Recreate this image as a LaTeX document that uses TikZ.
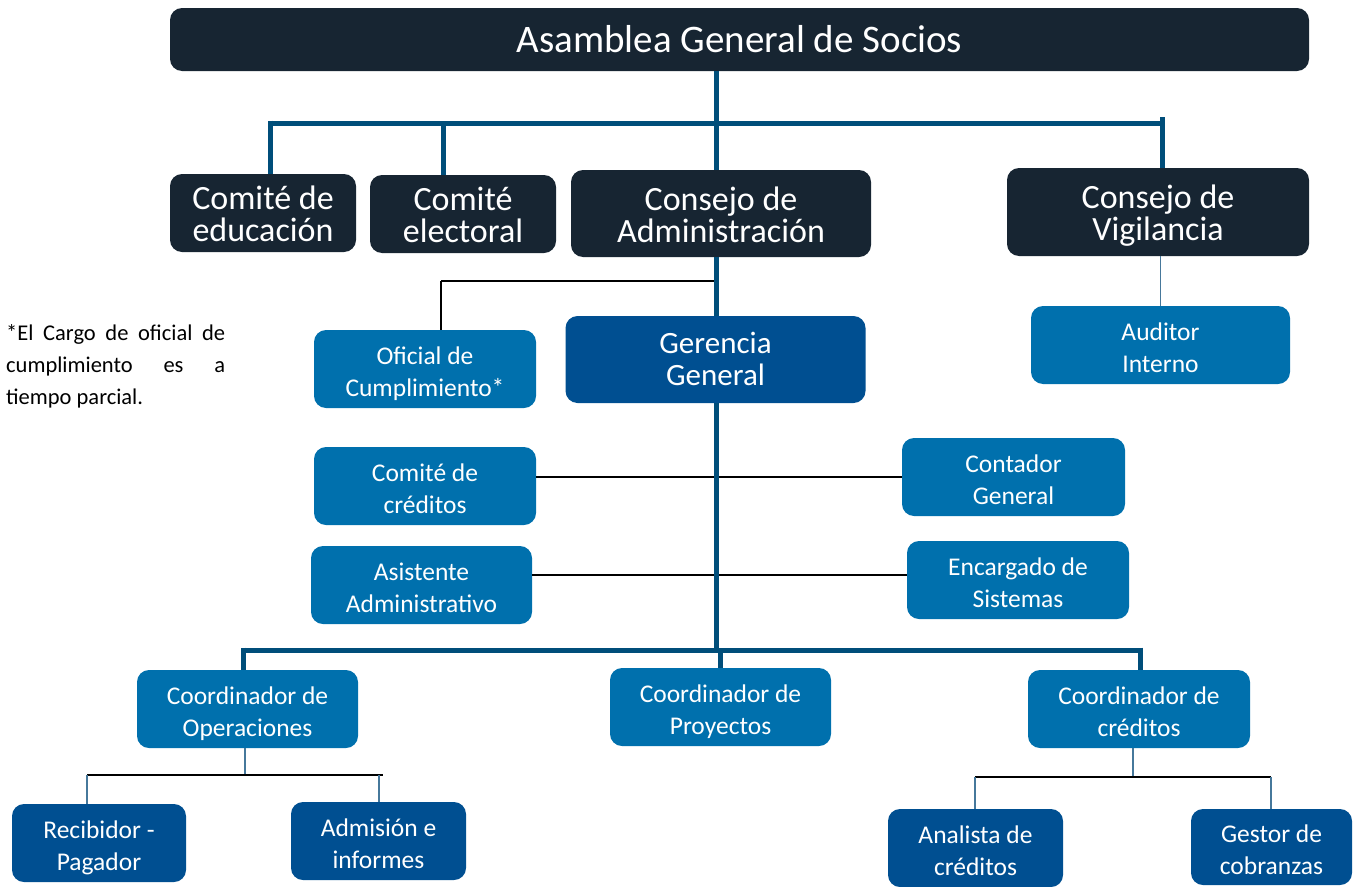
\documentclass[tikz,border=0pt]{standalone}
\usepackage{fontspec}
\setmainfont{Carlito}
\definecolor{navy}{RGB}{23,37,50}
\definecolor{midblue}{RGB}{0,112,173}
\definecolor{deepblue}{RGB}{0,79,145}
\definecolor{trunk}{RGB}{0,78,122}
\definecolor{thinblue}{RGB}{70,120,155}
\begin{document}
\begin{tikzpicture}[x=1pt,y=-1pt,
  box/.style={rounded corners=12pt,inner sep=0pt,align=center,text=white},
  topbox/.style={box,fill=navy,font=\fontsize{34}{32}\selectfont,text height=58pt,text depth=1pt},
  midbox/.style={box,fill=midblue,font=\fontsize{25.5}{32}\selectfont,text height=56pt,text depth=2pt},
  deepbox/.style={box,fill=deepblue,font=\fontsize{25.5}{32}\selectfont,text height=56pt,text depth=2pt},
  thick/.style={draw=trunk,line width=5pt},
  thinblk/.style={draw=black,line width=1.2pt},
  thinblu/.style={draw=thinblue,line width=1.4pt}]
\useasboundingbox (0,0) rectangle (1357,886);
% nodes
\node[box,fill=navy,minimum width=1139pt,minimum height=63pt,font=\fontsize{39}{39}\selectfont] (asam) at (739.5,39.5) {Asamblea General de Socios};
\node[topbox,minimum width=186pt,minimum height=78pt] (edu) at (263,213) {Comité de\\educación};
\node[topbox,minimum width=186pt,minimum height=78pt] (elec) at (463,214) {Comité\\electoral};
\node[topbox,minimum width=300pt,minimum height=87pt] (cadm) at (721,213.5) {Consejo de\\Administración};
\node[topbox,minimum width=302pt,minimum height=88pt] (cvig) at (1158,212) {Consejo de\\Vigilancia};
\node[midbox,minimum width=222pt,minimum height=78pt] (ofi) at (425,369) {Oficial de\\Cumplimiento*};
\node[deepbox,minimum width=300pt,minimum height=87pt,font=\fontsize{31}{32}\selectfont,text height=52pt,text depth=0pt] (ger) at (715.5,359.5) {Gerencia\\General};
\node[midbox,minimum width=259pt,minimum height=78pt] (aud) at (1160.5,345) {Auditor\\Interno};
\node[midbox,minimum width=222pt,minimum height=78pt] (ccred) at (425,486) {Comité de\\créditos};
\node[midbox,minimum width=223pt,minimum height=78pt] (cont) at (1013.5,477) {Contador\\General};
\node[midbox,minimum width=221pt,minimum height=78pt] (asis) at (421.5,585) {Asistente\\Administrativo};
\node[midbox,minimum width=222pt,minimum height=78pt] (enc) at (1018,580) {Encargado de\\Sistemas};
\node[midbox,minimum width=221pt,minimum height=78pt] (cop) at (247.5,709) {Coordinador de\\Operaciones};
\node[midbox,minimum width=221pt,minimum height=78pt] (cpro) at (720.5,707) {Coordinador de\\Proyectos};
\node[midbox,minimum width=222pt,minimum height=78pt] (ccr) at (1139,709) {Coordinador de\\créditos};
\node[deepbox,minimum width=174pt,minimum height=78pt] (rec) at (99,843) {Recibidor -\\Pagador};
\node[deepbox,minimum width=175pt,minimum height=78pt] (adm) at (378.5,841) {Admisión e\\informes};
\node[deepbox,minimum width=175pt,minimum height=78pt] (ana) at (975.5,848) {Analista de\\créditos};
\node[deepbox,minimum width=161pt,minimum height=76pt] (ges) at (1271.5,847) {Gestor de\\cobranzas};
\node[anchor=north west,inner sep=0pt,align=left,font=\fontsize{22.5}{32}\selectfont] (note) at (6,324)
  {\makebox[219pt][s]{*El Cargo de oficial de}\\\makebox[219pt][s]{cumplimiento es a}\\tiempo parcial.};
% coordinates
\coordinate (b1) at (270,123);
\coordinate (b2) at (443,123);
\coordinate (b3) at (1162,117);
\coordinate (b3b) at (1162,123);
\coordinate (lo) at (243,650);
\coordinate (lm) at (720,650);
\coordinate (lr) at (1140,650);
\coordinate (o1) at (441,281);
\coordinate (o2) at (716,281);
\coordinate (y575) at (0,575);
\coordinate (p0) at (245,775);
\coordinate (p1) at (87,775);
\coordinate (p2) at (383,775);
\coordinate (p3) at (379,775);
\coordinate (q0) at (1133,777);
\coordinate (q1) at (975,777);
\coordinate (q2) at (1271,777);
% thin connectors (behind trunk)
\draw[thinblk] (o1) -- (o2);
\draw[thinblk] (o1) -- (o1 |- ofi.north);
\draw[thinblk] (ccred.east |- cont.west) -- (cont.west);
\draw[thinblk] (asis.east |- y575) -- (enc.west |- y575);
\draw[thinblu] (cvig.south -| aud) -- (aud.north);
\draw[thinblu] (cop.south -| p0) -- (p0);
\draw[thinblk] (p1) -- (p2);
\draw[thinblu] (p1) -- (p1 |- rec.north);
\draw[thinblu] (p3) -- (p3 |- adm.north);
\draw[thinblu] (ccr.south -| q0) -- (q0);
\draw[thinblk] (q1) -- (q2);
\draw[thinblu] (q1) -- (q1 |- ana.north);
\draw[thinblu] (q2) -- (q2 |- ges.north);
% thick connectors
\draw[thick] (asam.south -| o2) -- (cadm.north -| o2);
\draw[thick] (b1) -- (b3b);
\draw[thick] (b1 |- 0,120.5) -- (b1 |- edu.north);
\draw[thick] (b2) -- (b2 |- elec.north);
\draw[thick] (b3) -- (b3 |- cvig.north);
\draw[thick] (cadm.south -| o2) -- (ger.north -| o2);
\draw[thick] (ger.south -| o2) -- (o2 |- lo);
\draw[thick] (lo) -- (lr);
\draw[thick] (lo |- 0,647.5) -- (lo |- cop.north);
\draw[thick] (lm) -- (lm |- cpro.north);
\draw[thick] (lr |- 0,647.5) -- (lr |- ccr.north);
\end{tikzpicture}
\end{document}
